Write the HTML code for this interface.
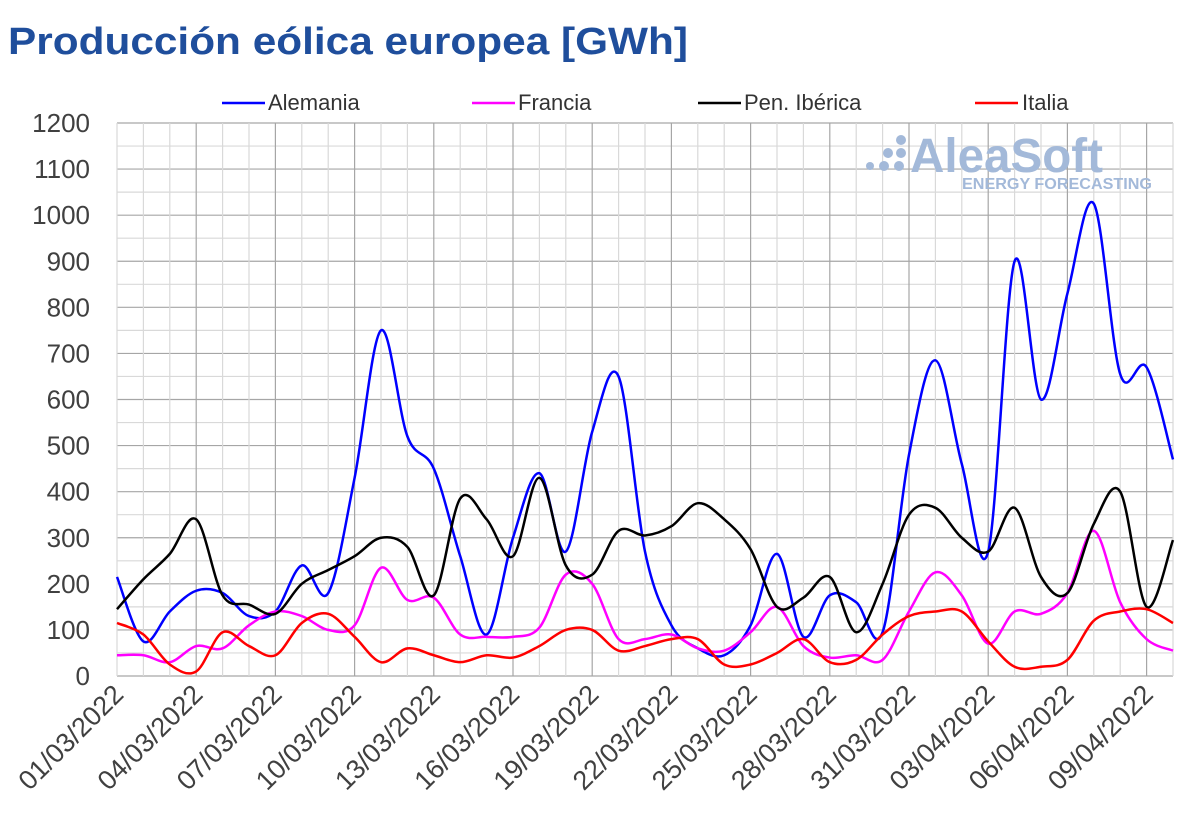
<!DOCTYPE html>
<html><head><meta charset="utf-8"><style>
body{margin:0;background:#fff;width:1200px;height:835px;overflow:hidden;font-family:"Liberation Sans",sans-serif}
</style></head><body>
<svg id="s" width="1200" height="835" xmlns="http://www.w3.org/2000/svg">
<text x="8" y="54" font-family="Liberation Sans" font-weight="bold" font-size="38" fill="#1f4e9c" textLength="680" lengthAdjust="spacingAndGlyphs">Producción eólica europea [GWh]</text>
<g id="grid"></g>
<g fill="#a3b9d9">
<circle cx="901" cy="140" r="5"/>
<circle cx="888" cy="153" r="5"/><circle cx="901" cy="153" r="5"/>
<circle cx="870" cy="166" r="4"/><circle cx="884" cy="166" r="5"/><circle cx="899" cy="166" r="5"/>
<text x="910" y="172" font-family="Liberation Sans" font-weight="bold" font-size="48" textLength="193" lengthAdjust="spacingAndGlyphs">AleaSoft</text>
<text x="962" y="189" font-family="Liberation Sans" font-weight="bold" font-size="15.5" textLength="190" lengthAdjust="spacingAndGlyphs">ENERGY FORECASTING</text>
</g>
<g id="series" fill="none" stroke-width="2.5"></g>
<g font-family="Liberation Sans" font-size="22" fill="#333">
<line x1="222" y1="103" x2="265" y2="103" stroke="#0000ff" stroke-width="2.5"/><text x="268" y="110">Alemania</text>
<line x1="472" y1="103" x2="515" y2="103" stroke="#ff00ff" stroke-width="2.5"/><text x="518" y="110">Francia</text>
<line x1="698" y1="103" x2="741" y2="103" stroke="#000" stroke-width="2.5"/><text x="744" y="110">Pen. Ibérica</text>
<line x1="975" y1="103" x2="1018" y2="103" stroke="#ff0000" stroke-width="2.5"/><text x="1022" y="110">Italia</text>
</g>
<g id="lab" font-family="Liberation Sans" fill="#404040"></g>
</svg>
<script>
var L=117,R=1173,T=123,B=676,dx=26.4,ns="http://www.w3.org/2000/svg";
function Y(v){return B-v*(B-T)/1200}
function el(p,t,a,txt){var e=document.createElementNS(ns,t);for(var k in a)e.setAttribute(k,a[k]);if(txt!=null)e.textContent=txt;p.appendChild(e);return e}
var g=document.getElementById('grid'),lab=document.getElementById('lab');
for(var v=0;v<=1200;v+=50){var y=Y(v);el(g,'line',{x1:L,x2:R,y1:y,y2:y,stroke:v%100?'#d9d9d9':'#a6a6a6','stroke-width':1.2});
if(v%100==0)el(lab,'text',{x:90,y:y+9,'text-anchor':'end','font-size':26},String(v));}
for(var d=0;d<=40;d++){var x=L+d*dx;el(g,'line',{x1:x,x2:x,y1:T,y2:B,stroke:(d%3==0&&d>0&&d<40)?'#a6a6a6':'#d9d9d9','stroke-width':1.2});
if(d%3==0){var dd=d+1,m='03';if(dd>31){dd-=31;m='04'}var s=(dd<10?'0':'')+dd+'/'+m+'/2022';
el(lab,'text',{x:x+8,y:B+20,'text-anchor':'end','font-size':27,transform:'rotate(-45 '+(x+8)+' '+(B+20)+')'},s);}}
var data={
'#0000ff':[215,75,140,185,180,130,140,240,180,430,750,520,450,260,90,300,440,270,530,650,270,110,60,45,110,265,85,175,160,95,480,685,460,270,900,600,830,1025,655,670,470],
'#ff00ff':[45,45,30,65,60,110,140,130,100,110,235,165,170,90,85,85,105,220,200,80,80,90,60,55,95,150,65,40,45,35,140,225,175,70,140,135,180,315,160,80,55],
'#000000':[145,210,265,340,175,155,135,200,230,260,300,280,175,385,340,260,430,240,220,315,305,325,375,340,275,150,170,215,95,200,350,365,300,270,365,215,180,330,400,150,295],
'#ff0000':[115,90,25,10,95,65,45,115,135,85,30,60,45,30,45,40,65,100,100,55,65,80,80,25,25,50,80,30,35,90,130,140,140,75,20,20,35,120,140,145,115]};
var sg=document.getElementById('series');
for(var c in data){var a=data[c],P=a.map(function(v,i){return[L+i*dx,Y(v)]});
var dstr='M'+P[0][0]+','+P[0][1];
for(var i=0;i<P.length-1;i++){var p0=P[Math.max(i-1,0)],p1=P[i],p2=P[i+1],p3=P[Math.min(i+2,P.length-1)],t=6;
dstr+=' C'+(p1[0]+(p2[0]-p0[0])/t)+','+(p1[1]+(p2[1]-p0[1])/t)+' '+(p2[0]-(p3[0]-p1[0])/t)+','+(p2[1]-(p3[1]-p1[1])/t)+' '+p2[0]+','+p2[1];}
el(sg,'path',{d:dstr,stroke:c});}
</script>
</body></html>
